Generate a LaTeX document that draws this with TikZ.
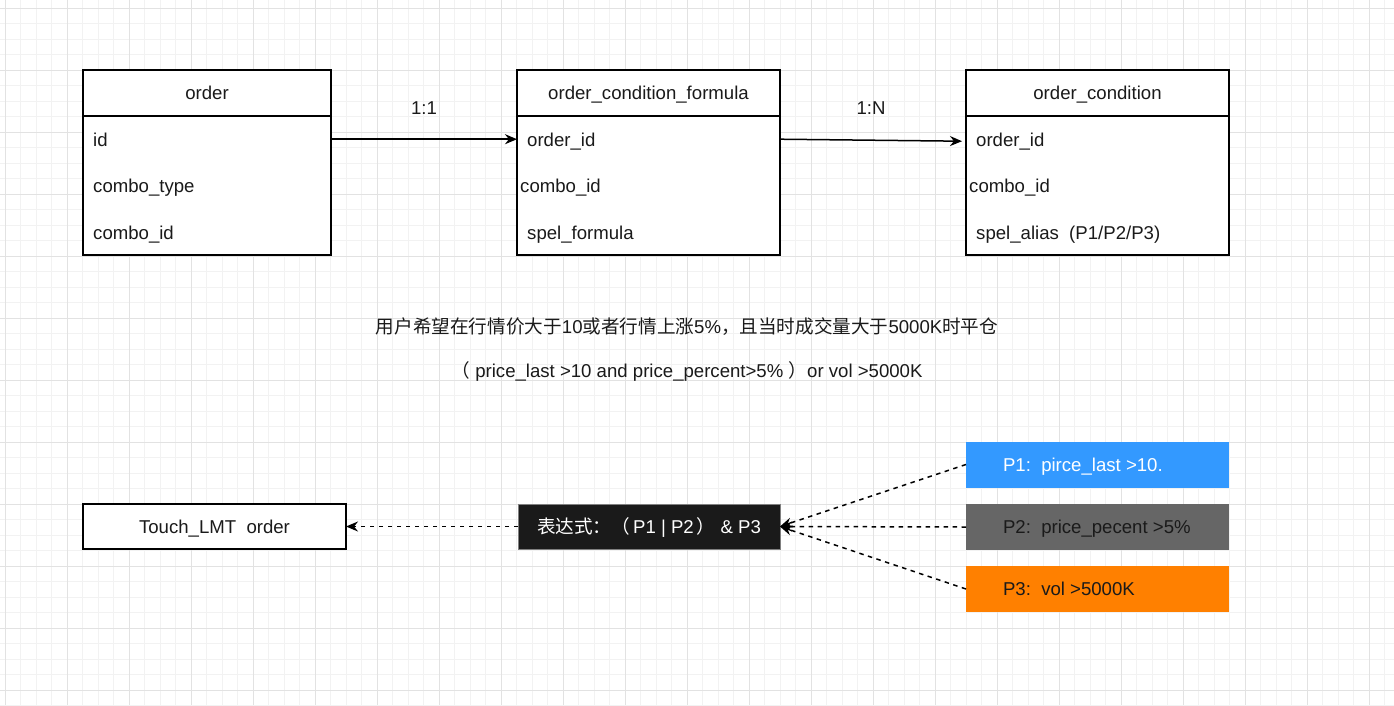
\documentclass[tikz,border=0pt]{standalone}
\usepackage{fontspec}
\setmainfont{Liberation Sans}
\newfontfamily\cjk{Noto Sans CJK SC}
\usetikzlibrary{arrows.meta,positioning,calc}

\definecolor{gridminor}{HTML}{F2F2F2}
\definecolor{gridmajor}{HTML}{E2E2E2}
\definecolor{pblue}{HTML}{3399FF}
\definecolor{pgray}{HTML}{666666}
\definecolor{porange}{HTML}{FF8000}
\definecolor{exprdark}{HTML}{1A1A1A}
\definecolor{txtdark}{HTML}{1A1A1A}

\newcommand{\ptxt}[1]{\makebox[189pt][l]{#1}}

\tikzset{
    tabhead/.style={draw, line width=1.5pt, fill=white, anchor=north west, outer sep=0pt,
        minimum height=46, text height=13.6pt, text depth=0pt},
    tabbody/.style={draw, line width=1.5pt, fill=white, outer sep=0pt, minimum height=139},
    rowtxt/.style={anchor=base west, inner sep=0pt, text height=13.6pt, text depth=0pt},
    plainbox/.style={draw, line width=1.5pt, fill=white, outer sep=0pt, minimum width=263,
        minimum height=45, text height=13.6pt, text depth=0pt},
    pbox/.style={outer sep=0pt, minimum width=263, minimum height=46, text height=13.6pt, text depth=0pt},
    plaintext/.style={inner sep=0pt, text height=13.6pt, text depth=0pt},
    solidarrow/.style={line width=1.5pt, -{Stealth[length=12pt, width=10pt]}},
    dasharrow/.style={line width=1.5pt, dash pattern=on 4.5pt off 4.5pt, -{Stealth[length=12pt, width=10pt]}}
}

\begin{document}
\begin{tikzpicture}[x=1pt, y=-1pt, font=\fontsize{18.6}{22}\selectfont, text=txtdark]
    \useasboundingbox (0,0) rectangle (1394,705);
    \fill[white] (0,0) rectangle (1394,705);

    % grid
    \foreach \i in {0,...,89} {
        \draw[gridminor, line width=1pt] ({5.3+15.5*\i},0) -- ++(0,705);
    }
    \foreach \i in {0,...,45} {
        \draw[gridminor, line width=1pt] (0,{8.3+15.5*\i}) -- ++(1394,0);
    }
    \foreach \i in {0,...,22} {
        \draw[gridmajor, line width=1pt] ({5.3+62*\i},0) -- ++(0,705);
    }
    \foreach \i in {0,...,11} {
        \draw[gridmajor, line width=1pt] (0,{8.3+62*\i}) -- ++(1394,0);
    }

    % tables
    \node[tabhead, minimum width=248] (ord) at (83,70) {order};
    \node[tabbody, minimum width=248, below=0pt of ord] (ordbody) {};
    \node[rowtxt] (ordid) at (93,146) {id};
    \node[rowtxt] (ordtype) at (93,192) {combo\_type};
    \node[rowtxt] (ordcombo) at (93,239) {combo\_id};

    \node[tabhead, minimum width=263] (ocf) at (517,70) {order\_condition\_formula};
    \node[tabbody, minimum width=263, below=0pt of ocf] (ocfbody) {};
    \node[rowtxt] (ocfoid) at (527,146) {order\_id};
    \node[rowtxt] (ocfcombo) at (520,192) {combo\_id};
    \node[rowtxt] (ocfspel) at (527,239) {spel\_formula};

    \node[tabhead, minimum width=263] (oc) at (966,70) {order\_condition};
    \node[tabbody, minimum width=263, below=0pt of oc] (ocbody) {};
    \node[rowtxt] (ocoid) at (976,146) {order\_id};
    \node[rowtxt] (occombo) at (969,192) {combo\_id};
    \node[rowtxt] (ocspel) at (976,239) {spel\_alias\ \ (P1/P2/P3)};

    \draw[solidarrow] (ordbody.east |- ordid) -- node[above=24pt, inner sep=0pt] {1:1} (ocfbody.west |- ocfoid);
    \draw[solidarrow] (ocfbody.east |- ocfoid) -- node[above=25pt, inner sep=0pt] {1:N} ($(ocbody.west |- ocoid)+(-4,2)$);

    % description
    \node[plaintext] (desc) at (687,326.5) {{\cjk 用户希望在行情价大于}10{\cjk 或者行情上涨}5\%{\cjk ，且当时成交量大于}5000K{\cjk 时平仓}};
    \node[plaintext] (expr1) at (687,370.5) {{\cjk （} price\_last >10 and price\_percent>5\% {\cjk ）}or vol >5000K};

    % condition flow
    \node[plainbox] (touch) at (214.5,526.5) {Touch\_LMT\ \ order};
    \node[plainbox, minimum width=262, fill=exprdark, draw=gray, line width=1pt, text=white] (expr) at (649,526.5)
        {{\cjk 表达式：（}\,P1 | P2\,{\cjk ）} \& P3};
    \node[pbox, fill=pblue, text=white] (p1) at (1097.5,464.5) {\ptxt{P1:\ \ pirce\_last >10.}};
    \node[pbox, fill=pgray] (p2) at (1097.5,527) {\ptxt{P2:\ \ price\_pecent >5\%}};
    \node[pbox, fill=porange] (p3) at (1097.5,589) {\ptxt{P3:\ \ vol >5000K}};

    \draw[dasharrow] (expr.west) -- (touch.east);
    \foreach \p in {p1,p2,p3} {
        \draw[dasharrow] (\p.west) -- (expr.east);
    }
\end{tikzpicture}
\end{document}
